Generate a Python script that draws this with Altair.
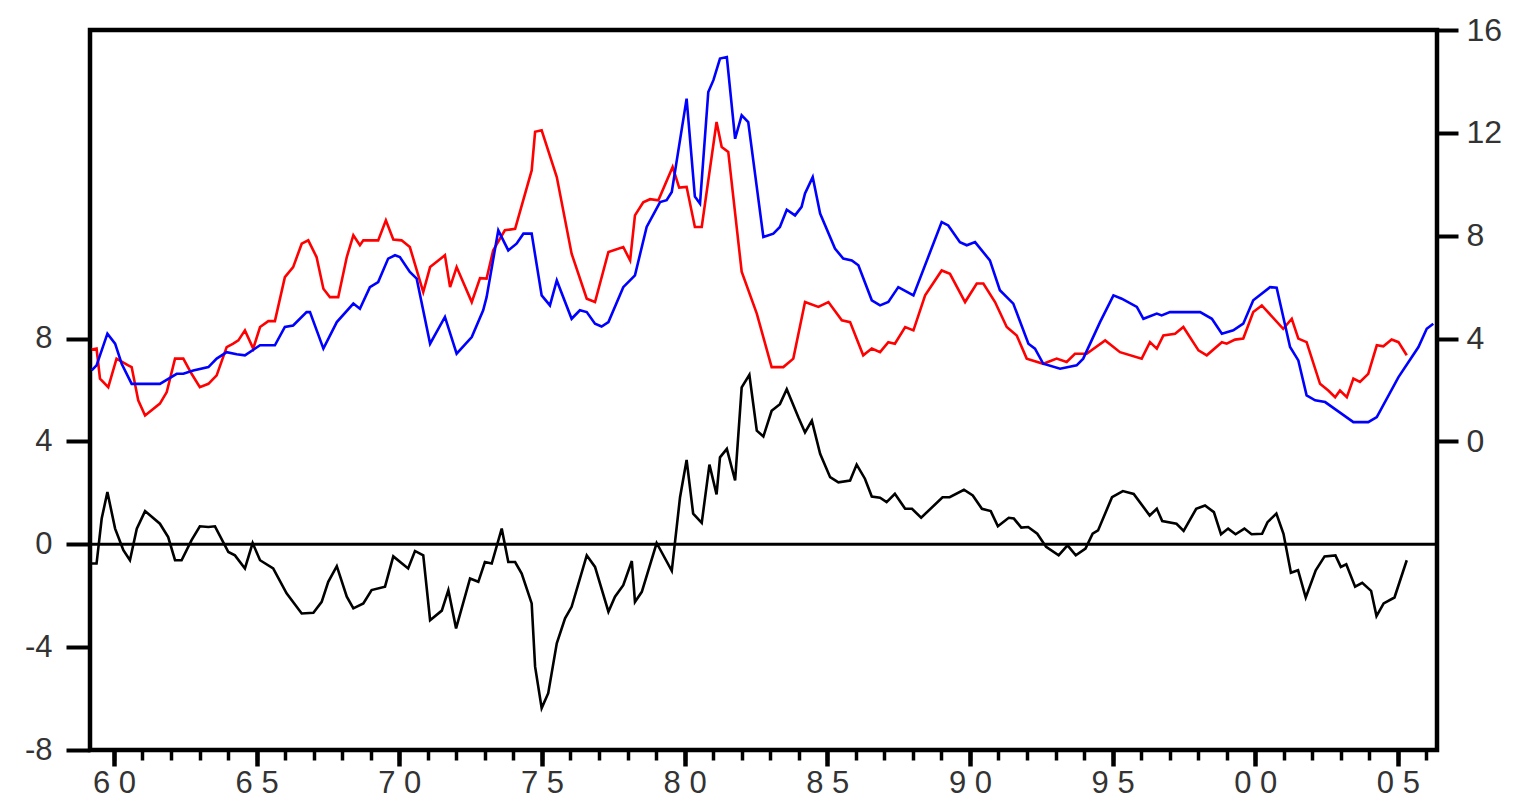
import altair as alt
import pandas as pd

# ---- data (decimal years) ----
blue_years = [1959.22, 1959.39, 1959.77, 1960.04, 1960.27, 1960.62, 1961.61, 1962.20, 1962.43, 1962.78,
              1963.31, 1963.60, 1963.95, 1964.30, 1964.59, 1965.12, 1965.64, 1965.99, 1966.28, 1966.75,
              1966.87, 1967.34, 1967.81, 1968.39, 1968.62, 1968.97, 1969.26, 1969.61, 1969.85, 1970.02,
              1970.37, 1970.61, 1971.08, 1971.60, 1972.01, 1972.54, 1972.94, 1973.06, 1973.47, 1973.82,
              1974.11, 1974.35, 1974.64, 1974.99, 1975.28, 1975.52, 1976.04, 1976.33, 1976.57, 1976.86,
              1977.09, 1977.33, 1977.85, 1978.26, 1978.67, 1979.14, 1979.37, 1979.55, 1980.07, 1980.36,
              1980.54, 1980.83, 1981.01, 1981.24, 1981.48, 1981.77, 1982.00, 1982.23, 1982.76, 1983.11,
              1983.34, 1983.58, 1983.87, 1984.10, 1984.22, 1984.49, 1984.75, 1985.27, 1985.56, 1985.86,
              1986.09, 1986.56, 1986.85, 1987.14, 1987.49, 1988.02, 1989.01, 1989.24, 1989.65, 1989.89,
              1990.18, 1990.70, 1991.05, 1991.52, 1992.05, 1992.28, 1992.57, 1993.16, 1993.74, 1993.97,
              1994.56, 1995.03, 1995.32, 1995.85, 1996.08, 1996.55, 1996.72, 1997.01, 1998.07, 1998.48,
              1998.83, 1999.23, 1999.58, 1999.93, 2000.52, 2000.75, 2001.22, 2001.51, 2001.80, 2002.10,
              2002.45, 2002.86, 2003.44, 2003.96, 2004.26, 2005.02, 2005.72, 2006.01, 2006.24]
blue_vals = [2.76, 2.96, 4.19, 3.80, 3.02, 2.24, 2.24, 2.63, 2.63, 2.76,
             2.89, 3.22, 3.47, 3.39, 3.35, 3.74, 3.74, 4.45, 4.51, 5.03,
             5.03, 3.61, 4.64, 5.36, 5.16, 6.00, 6.20, 7.11, 7.24, 7.17,
             6.59, 6.33, 3.80, 4.84, 3.41, 4.06, 5.10, 5.61, 8.21, 7.43,
             7.69, 8.08, 8.08, 5.68, 5.29, 6.26, 4.77, 5.10, 5.03, 4.58,
             4.47, 4.64, 6.00, 6.46, 8.34, 9.31, 9.38, 9.70, 13.33, 9.52,
             9.25, 13.59, 14.05, 14.89, 14.95, 11.77, 12.68, 12.42, 7.95, 8.08,
             8.34, 9.01, 8.79, 9.12, 9.64, 10.28, 8.86, 7.50, 7.11, 7.04,
             6.85, 5.49, 5.29, 5.42, 6.00, 5.68, 8.53, 8.40, 7.75, 7.63,
             7.75, 7.04, 5.88, 5.36, 3.80, 3.61, 3.02, 2.83, 2.96, 3.22,
             4.64, 5.68, 5.55, 5.23, 4.77, 4.97, 4.90, 5.03, 5.03, 4.77,
             4.19, 4.32, 4.58, 5.49, 6.00, 5.98, 3.67, 3.15, 1.79, 1.60,
             1.53, 1.21, 0.75, 0.75, 0.95, 2.50, 3.67, 4.38, 4.58]

red_years = [1959.22, 1959.39, 1959.51, 1959.80, 1960.09, 1960.50, 1960.62, 1960.85, 1961.09, 1961.61,
             1961.85, 1962.14, 1962.43, 1962.72, 1963.01, 1963.31, 1963.60, 1963.95, 1964.18, 1964.36,
             1964.59, 1964.88, 1965.12, 1965.41, 1965.64, 1965.99, 1966.28, 1966.58, 1966.81, 1967.10,
             1967.34, 1967.57, 1967.86, 1968.16, 1968.39, 1968.62, 1968.74, 1969.26, 1969.53, 1969.79,
             1970.08, 1970.37, 1970.84, 1971.08, 1971.60, 1971.78, 1972.01, 1972.54, 1972.83, 1973.06,
             1973.29, 1973.70, 1974.06, 1974.64, 1974.76, 1974.99, 1975.52, 1976.04, 1976.57, 1976.86,
             1977.33, 1977.85, 1978.09, 1978.26, 1978.55, 1978.79, 1979.08, 1979.58, 1979.81, 1980.07,
             1980.36, 1980.60, 1981.12, 1981.30, 1981.53, 1982.00, 1982.53, 1983.05, 1983.46, 1983.81,
             1984.22, 1984.69, 1985.04, 1985.51, 1985.80, 1986.26, 1986.56, 1986.85, 1987.14, 1987.37,
             1987.73, 1988.02, 1988.43, 1989.01, 1989.30, 1989.83, 1990.24, 1990.47, 1990.88, 1991.29,
             1991.64, 1991.99, 1992.57, 1993.04, 1993.39, 1993.68, 1994.09, 1994.74, 1995.26, 1996.02,
             1996.31, 1996.55, 1996.78, 1997.19, 1997.48, 1998.01, 1998.30, 1998.83, 1999.00, 1999.29,
             1999.58, 1999.93, 2000.23, 2000.98, 2001.28, 2001.51, 2001.80, 2002.27, 2002.56, 2002.80,
             2002.97, 2003.21, 2003.44, 2003.67, 2003.96, 2004.26, 2004.49, 2004.78, 2005.02, 2005.31]
red_vals = [3.57, 3.61, 2.44, 2.11, 3.22, 2.96, 2.89, 1.60, 1.01, 1.47,
            1.92, 3.22, 3.22, 2.63, 2.11, 2.24, 2.57, 3.67, 3.80, 3.93,
            4.32, 3.61, 4.45, 4.68, 4.68, 6.39, 6.78, 7.69, 7.82, 7.17,
            5.94, 5.61, 5.61, 7.17, 8.02, 7.63, 7.82, 7.82, 8.60, 7.85,
            7.82, 7.56, 5.81, 6.78, 7.24, 6.00, 6.78, 5.42, 6.35, 6.33,
            7.43, 8.21, 8.27, 10.54, 12.04, 12.10, 10.28, 7.30, 5.55, 5.42,
            7.37, 7.56, 7.04, 8.79, 9.30, 9.42, 9.38, 10.67, 9.87, 9.90,
            8.34, 8.34, 12.42, 11.45, 11.26, 6.60, 4.97, 2.89, 2.89, 3.22,
            5.42, 5.23, 5.42, 4.71, 4.64, 3.35, 3.61, 3.47, 3.86, 3.80,
            4.45, 4.32, 5.68, 6.65, 6.52, 5.42, 6.14, 6.14, 5.42, 4.45,
            4.12, 3.22, 3.02, 3.22, 3.09, 3.41, 3.41, 3.93, 3.47, 3.22,
            3.86, 3.61, 4.12, 4.19, 4.45, 3.54, 3.35, 3.86, 3.80, 3.96,
            4.00, 5.03, 5.29, 4.38, 4.77, 4.00, 3.86, 2.24, 1.98, 1.72,
            1.98, 1.72, 2.44, 2.31, 2.63, 3.74, 3.70, 3.96, 3.86, 3.35]

black_years = [1959.22, 1959.39, 1959.57, 1959.77, 1960.04, 1960.33, 1960.56, 1960.80, 1961.09, 1961.61,
               1961.90, 1962.14, 1962.37, 1962.72, 1963.01, 1963.31, 1963.54, 1964.01, 1964.24, 1964.59,
               1964.86, 1965.12, 1965.58, 1966.05, 1966.58, 1966.99, 1967.28, 1967.51, 1967.81, 1968.16,
               1968.39, 1968.74, 1969.03, 1969.50, 1969.79, 1970.31, 1970.55, 1970.84, 1971.08, 1971.49,
               1971.72, 1971.99, 1972.48, 1972.77, 1973.00, 1973.24, 1973.59, 1973.82, 1974.06, 1974.29,
               1974.64, 1974.76, 1974.99, 1975.22, 1975.52, 1975.81, 1976.04, 1976.57, 1976.86, 1977.33,
               1977.56, 1977.85, 1978.15, 1978.26, 1978.50, 1979.02, 1979.55, 1979.84, 1980.07, 1980.30,
               1980.60, 1980.87, 1981.12, 1981.24, 1981.48, 1981.77, 1982.00, 1982.27, 1982.53, 1982.76,
               1983.05, 1983.34, 1983.58, 1983.99, 1984.22, 1984.46, 1984.75, 1985.10, 1985.39, 1985.80,
               1986.03, 1986.32, 1986.56, 1986.85, 1987.08, 1987.37, 1987.73, 1987.97, 1988.29, 1989.04,
               1989.29, 1989.79, 1990.10, 1990.42, 1990.73, 1990.98, 1991.36, 1991.54, 1991.80, 1992.04,
               1992.36, 1992.67, 1993.11, 1993.42, 1993.71, 1994.05, 1994.30, 1994.49, 1994.98, 1995.36,
               1995.74, 1996.30, 1996.55, 1996.74, 1997.24, 1997.49, 1997.93, 1998.24, 1998.55, 1998.80,
               1999.05, 1999.31, 1999.62, 1999.87, 2000.24, 2000.43, 2000.74, 2000.99, 2001.25, 2001.50,
               2001.77, 2002.12, 2002.43, 2002.81, 2003.00, 2003.19, 2003.50, 2003.75, 2004.06, 2004.25,
               2004.50, 2004.88, 2005.31]
black_vals = [-0.75, -0.75, 1.00, 2.03, 0.61, -0.23, -0.62, 0.61, 1.29, 0.80,
              0.28, -0.62, -0.62, 0.16, 0.70, 0.67, 0.70, -0.30, -0.43, -0.94,
              0.05, -0.62, -0.94, -1.91, -2.69, -2.66, -2.24, -1.46, -0.85, -2.04,
              -2.49, -2.30, -1.78, -1.65, -0.47, -0.94, -0.26, -0.43, -2.95, -2.58,
              -1.78, -3.27, -1.33, -1.46, -0.69, -0.75, 0.61, -0.69, -0.69, -1.14,
              -2.30, -4.76, -6.37, -5.79, -3.85, -2.88, -2.43, -0.43, -0.88, -2.62,
              -2.04, -1.59, -0.65, -2.24, -1.85, 0.05, -1.03, 1.83, 3.28, 1.19,
              0.83, 3.10, 1.94, 3.38, 3.71, 2.48, 6.10, 6.59, 4.42, 4.19,
              5.19, 5.45, 6.03, 4.93, 4.35, 4.81, 3.52, 2.61, 2.41, 2.48,
              3.10, 2.55, 1.86, 1.81, 1.64, 1.96, 1.38, 1.38, 1.03, 1.83,
              1.83, 2.12, 1.90, 1.38, 1.29, 0.70, 1.03, 1.00, 0.65, 0.67,
              0.41, -0.10, -0.43, -0.04, -0.43, -0.17, 0.41, 0.54, 1.83, 2.07,
              1.96, 1.12, 1.38, 0.90, 0.80, 0.52, 1.38, 1.51, 1.25, 0.39,
              0.61, 0.39, 0.61, 0.39, 0.41, 0.86, 1.19, 0.41, -1.11, -1.01,
              -2.07, -1.01, -0.47, -0.43, -0.88, -0.78, -1.65, -1.50, -1.81, -2.79,
              -2.30, -2.07, -0.62]

major_years = [1960, 1965, 1970, 1975, 1980, 1985, 1990, 1995, 2000, 2005]
minor_years = list(range(1960, 2007))
left_ticks = [-8, -4, 0, 4, 8]
right_ticks = [0, 4, 8, 12, 16]
zero_level = [0]

# ---- tables ----
df_black = pd.DataFrame({"year": black_years, "value": black_vals})
df_rb = pd.concat([
    pd.DataFrame({"year": red_years, "value": red_vals, "series": "red"}),
    pd.DataFrame({"year": blue_years, "value": blue_vals, "series": "blue"}),
], ignore_index=True)
df_zero = pd.DataFrame({"value": zero_level})

x_scale = alt.Scale(domain=[1959.16, 2006.37], nice=False, zero=False)
left_scale = alt.Scale(domain=[-8, 20], nice=False, zero=False)
right_scale = alt.Scale(domain=[-12, 16], nice=False, zero=False)

label_color = "#333333"
two_digit = "format(datum.value % 100, '02d')"

major_axis = alt.Axis(orient="bottom", values=major_years, tickSize=16, tickWidth=4.5, tickColor="black",
                      domain=False, grid=False, title=None,
                      labelFont="Liberation Sans Narrow, Liberation Sans, Arial",
                      labelFontSize=31, labelColor=label_color, labelPadding=2,
                      labelOverlap=False, labelFlush=False,
                      labelExpr=f"substring({two_digit}, 0, 1) + ' ' + substring({two_digit}, 1, 2)")
minor_axis = alt.Axis(orient="bottom", values=minor_years, tickSize=10, tickWidth=3.5, tickColor="black",
                      domain=False, grid=False, labels=False, title=None)
left_axis = alt.Axis(orient="left", values=left_ticks, tickSize=24, tickWidth=4, tickColor="black",
                     domain=False, grid=False, title=None, labelFont="Liberation Sans",
                     labelFontSize=31, labelColor=label_color, labelPadding=14,
                     labelOverlap=False, labelFlush=False,
                     labelExpr="'' + datum.value")
right_axis = alt.Axis(orient="right", values=right_ticks, tickSize=21, tickWidth=4, tickColor="black",
                      domain=False, grid=False, title=None, labelFont="Liberation Sans",
                      labelFontSize=32, labelColor=label_color, labelPadding=8,
                      labelOverlap=False, labelFlush=False)

zero = alt.Chart(df_zero).mark_rule(color="black", strokeWidth=3).encode(
    y=alt.Y("value:Q", scale=left_scale, axis=None)
)

rb = alt.Chart(df_rb).mark_line(strokeWidth=2.6).encode(
    x=alt.X("year:Q", scale=x_scale, axis=minor_axis),
    y=alt.Y("value:Q", scale=right_scale, axis=right_axis),
    color=alt.Color("series:N", scale=alt.Scale(domain=["red", "blue"], range=["#FF0000", "#0000FF"]),
                    legend=None),
)

black = alt.Chart(df_black).mark_line(color="black", strokeWidth=2.6).encode(
    x=alt.X("year:Q", scale=x_scale, axis=major_axis),
    y=alt.Y("value:Q", scale=left_scale, axis=left_axis),
)

chart = (
    alt.layer(zero, rb, black)
    .resolve_scale(y="independent")
    .resolve_axis(x="independent", y="independent")
    .properties(width=1347, height=720,
                padding={"left": 82, "top": 22, "right": 72, "bottom": 52},
                autosize=alt.AutoSizeParams(type="none"),
                background="white")
    .configure_view(stroke="black", strokeWidth=4.5)
)

chart.save("out.html", embed_options={"renderer": "svg", "actions": False})
